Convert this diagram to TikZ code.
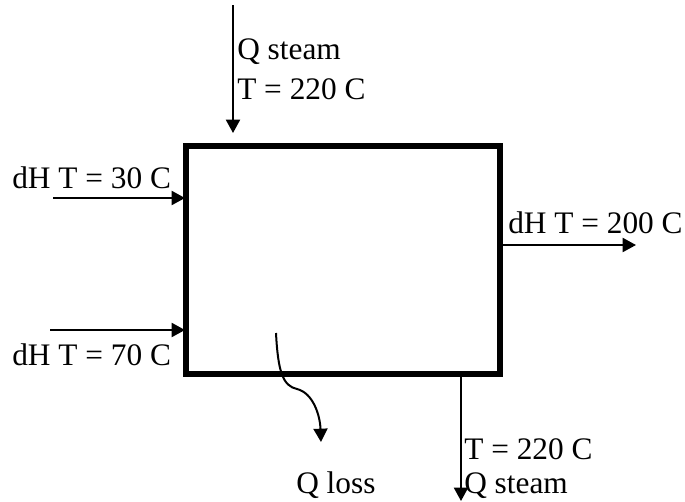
\documentclass[tikz,border=0pt]{standalone}
\usepackage{fontspec}
\setmainfont{Liberation Serif}
\usetikzlibrary{arrows.meta}
\begin{document}
\begin{tikzpicture}[x=0.75pt,y=-0.75pt,
  lbl/.style={anchor=base west,inner sep=0pt,font=\fontsize{23.5}{28}\selectfont},
  flow/.style={line width=1.5pt,-{Triangle[length=10pt,width=10.5pt]}}]
\useasboundingbox (0,0) rectangle (685,501);
\fill[white] (0,0) rectangle (685,501);
\node[draw,line width=3.9pt,minimum width=235.5pt,minimum height=171pt,inner sep=0pt,outer sep=0pt] (box) at (343,260) {};
% top steam in
\coordinate (qa) at (233,5);
\coordinate (qb) at (233,133);
\draw[flow] (qa) -- (qb);
\node[lbl] (t1) at (237,59) {Q steam};
\node[lbl] (t2) at (237,99) {T = 220 C};
% left inputs
\coordinate (l1a) at (53,198);
\coordinate (l1b) at (185,198);
\draw[flow] (l1a) -- (l1b);
\node[lbl] (t3) at (12,188) {dH T = 30 C};
\coordinate (l2a) at (50,330);
\coordinate (l2b) at (185,330);
\draw[flow] (l2a) -- (l2b);
\node[lbl] (t4) at (12,365) {dH T = 70 C};
% right output
\coordinate (ra) at (500,245);
\coordinate (rb) at (636,245);
\draw[flow] (ra) -- (rb);
\node[lbl] (t5) at (508,233) {dH T = 200 C};
% bottom steam out
\coordinate (ba) at (461,374);
\coordinate (bb) at (461,501);
\draw[flow] (ba) -- (bb);
\node[lbl] (t6) at (464,459) {T = 220 C};
\node[lbl] (t7) at (464,493) {Q steam};
% loss
\coordinate (ca) at (276,333);
\coordinate (cb) at (321,442);
\draw[flow] (ca) .. controls (278,372) and (283,386) .. (297,389)
  .. controls (313,393) and (320,415) .. (cb);
\node[lbl] (t8) at (296,493) {Q loss};
\end{tikzpicture}
\end{document}
